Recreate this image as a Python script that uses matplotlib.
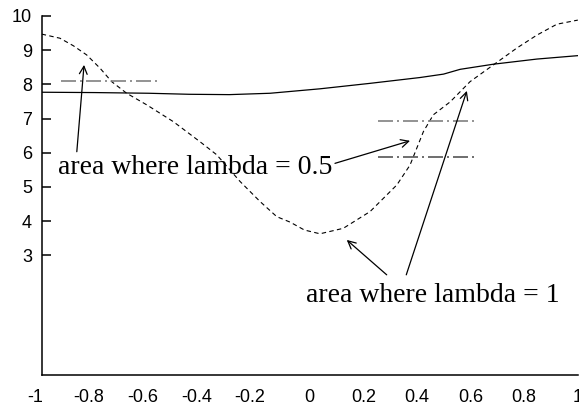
import matplotlib
matplotlib.use("Agg")
import matplotlib.pyplot as plt
import matplotlib.transforms as mtransforms

# solid curve
solid_x = [-1.0, -0.8, -0.6, -0.45, -0.3, -0.148, 0.038, 0.225, 0.411, 0.499, 0.561, 0.685, 0.847, 1.0]
solid_y = [7.77, 7.76, 7.74, 7.71, 7.70, 7.74, 7.87, 8.03, 8.20, 8.30, 8.44, 8.59, 8.74, 8.84]

# dashed curve
dashed_x = [-1.0, -0.932, -0.882, -0.832, -0.782, -0.739, -0.683, -0.608, -0.509, -0.409,
            -0.347, -0.260, -0.185, -0.123, -0.073, -0.02, 0.038, 0.125, 0.225, 0.325,
            0.374, 0.399, 0.424, 0.461, 0.524, 0.598, 0.685, 0.772, 0.847, 0.922, 1.0]
dashed_y = [9.47, 9.35, 9.13, 8.86, 8.47, 8.08, 7.74, 7.40, 6.91, 6.32,
            5.94, 5.16, 4.57, 4.13, 3.97, 3.74, 3.63, 3.79, 4.28, 5.06,
            5.64, 6.13, 6.62, 7.11, 7.49, 8.08, 8.57, 9.06, 9.44, 9.76, 9.88]

# dash-dot level markers
level_y = [8.10, 6.93, 5.89]
level_x0 = [-0.929, 0.256, 0.256]
level_x1 = [-0.559, 0.629, 0.629]
level_colors = ["#808080", "#808080", "#555555"]

# annotations: (tail, head)
label_half = "area where lambda = 0.5"
label_one = "area where lambda = 1"
arrows_half = [((-0.869, 6.03), (-0.842, 8.57)), ((0.094, 5.69), (0.374, 6.35))]
arrows_one = [((0.287, 2.43), (0.138, 3.45)), ((0.360, 2.43), (0.586, 7.81))]

xticks = [-1, -0.8, -0.6, -0.4, -0.2, 0, 0.2, 0.4, 0.6, 0.8, 1]
xtick_labels = ["-1", "-0.8", "-0.6", "-0.4", "-0.2", "0", "0.2", "0.4", "0.6", "0.8", "1"]
yticks = [3, 4, 5, 6, 7, 8, 9, 10]

fig = plt.figure(figsize=(5.79, 4.11), dpi=100)
ax = fig.add_axes([0.072, 0.0876, 0.926, 0.8735])

ax.plot(solid_x, solid_y, color="black", lw=0.9)
ax.plot(dashed_x, dashed_y, color="black", lw=0.8, dashes=(4, 3))

for y, x0, x1, c in zip(level_y, level_x0, level_x1, level_colors):
    ax.plot([x0, x1], [y, y], color=c, lw=1.2, dashes=(9, 2.4, 1.2, 2.4))

for tail, head in arrows_half + arrows_one:
    ax.annotate("", xy=head, xytext=tail,
                arrowprops=dict(arrowstyle="->", lw=0.9, color="black",
                                mutation_scale=14, shrinkA=0, shrinkB=0))

ax.text(-0.939, 5.38, label_half, family="Liberation Serif", fontsize=20,
        va="baseline", ha="left")
ax.text(-0.014, 1.64, label_one, family="Liberation Serif", fontsize=20,
        va="baseline", ha="left")

ax.set_xlim(-1, 1)
ax.set_ylim(-0.5, 10)
ax.set_xticks(xticks)
ax.set_xticklabels(xtick_labels)
ax.set_yticks(yticks)
for lab in ax.get_xticklabels() + ax.get_yticklabels():
    lab.set_family("Liberation Sans")
    lab.set_fontsize(13)
ax.tick_params(axis="x", length=0, pad=10)
ax.tick_params(axis="y", direction="in", length=6.5, width=1.1, pad=7)

# negative labels sit a little to the left in the original
shift = mtransforms.ScaledTranslation(-4.5 / 72, 0, fig.dpi_scale_trans)
for lab, val in zip(ax.get_xticklabels(), xticks):
    if val < 0:
        lab.set_transform(lab.get_transform() + shift)

ax.spines["top"].set_visible(False)
ax.spines["right"].set_visible(False)
ax.spines["left"].set_linewidth(1.1)
ax.spines["bottom"].set_linewidth(1.1)
ax.spines["left"].set_bounds(-0.5, 10)

fig.savefig("out.png", dpi=100)
